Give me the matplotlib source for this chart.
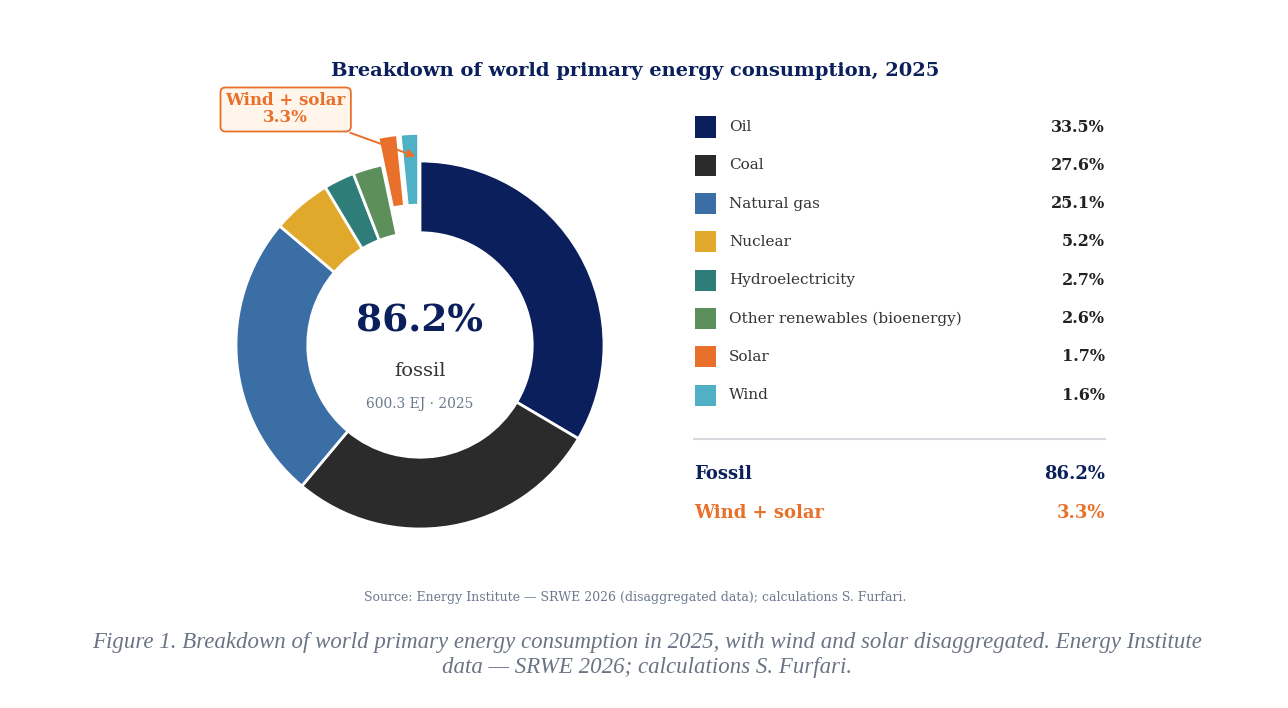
import matplotlib.pyplot as plt
from matplotlib.patches import Rectangle
from matplotlib.lines import Line2D

# Energy Institute SRWE 2026, share of world primary energy (%)
categories = ["Oil", "Coal", "Natural gas", "Nuclear", "Hydroelectricity",
              "Other renewables (bioenergy)", "Solar", "Wind"]
shares = [33.5, 27.6, 25.1, 5.2, 2.7, 2.6, 1.7, 1.6]
colors = ["#0a1f5c", "#2b2b2b", "#3a6ea5", "#e0a92b", "#2e7d78",
          "#5c8f5a", "#e8702a", "#4fb0c6"]
exploded = ["Solar", "Wind"]

fossil_share = 86.2
wind_solar_share = 3.3
total_label = "600.3 EJ · 2025"

NAVY = "#0a1f5c"
ORANGE = "#e8702a"
W, H = 1288, 708
plt.rcParams['font.family'] = ['DejaVu Serif']


def px(x, y):
    return x / W, 1 - y / H


fig = plt.figure(figsize=(W / 100, H / 100), dpi=100)
fig.patch.set_facecolor("white")

# donut axes: centre at (420, 345) px, radius 1 -> 184 px
cx, cy, half = 420, 345, 240
ax = fig.add_axes([(cx - half) / W, (H - cy - half) / H, 2 * half / W, 2 * half / H])

explode = [0.15 if c in exploded else 0 for c in categories]
ax.pie(shares, colors=colors, startangle=90, counterclock=False, explode=explode,
       radius=1.0, wedgeprops=dict(width=0.39, edgecolor="white", linewidth=2))
lim = half / 184
ax.set_xlim(-lim, lim)
ax.set_ylim(-lim, lim)
ax.set_aspect("equal")
ax.axis("off")

ax.text(0, 0.13, f"{fossil_share:.1f}%", ha="center", va="center",
        fontsize=27, fontweight="bold", color=NAVY)
ax.text(0, -0.14, "fossil", ha="center", va="center", fontsize=14, color="#333333")
ax.text(0, -0.32, total_label, ha="center", va="center", fontsize=10, color="#6b7a8f")

ax.annotate(f"Wind + solar\n{wind_solar_share:.1f}%", xy=(-0.01, 1.02), xytext=(-0.73, 1.28),
            ha="center", va="center", fontsize=12, fontweight="bold", color=ORANGE,
            linespacing=1.0, annotation_clip=False,
            bbox=dict(boxstyle="round,pad=0.3", fc="#fff5eb", ec=ORANGE, lw=1.3),
            arrowprops=dict(arrowstyle="-|>", color=ORANGE, lw=1.4, mutation_scale=12))

fig.text(*px(635, 71), "Breakdown of world primary energy consumption, 2025",
         ha="center", va="center", fontsize=14, fontweight="bold", color=NAVY)

# legend as a table
row_y0, row_dy = 127, 38.3
for i, (cat, val, col) in enumerate(zip(categories, shares, colors)):
    y = row_y0 + i * row_dy
    x0, y0 = px(695, y + 10.5)
    fig.add_artist(Rectangle((x0, y0), 21 / W, 21 / H, transform=fig.transFigure,
                             facecolor=col, edgecolor="none"))
    fig.text(*px(729, y), cat, ha="left", va="center", fontsize=11, color="#333333")
    fig.text(*px(1105, y), f"{val:.1f}%", ha="right", va="center", fontsize=11.5,
             fontweight="bold", color="#222222")

fig.add_artist(Line2D([694 / W, 1105 / W], [1 - 439 / H] * 2, transform=fig.transFigure,
                      color="#d5d8dc", lw=1.5))
fig.text(*px(694, 474), "Fossil", ha="left", va="center", fontsize=13,
         fontweight="bold", color=NAVY)
fig.text(*px(1105, 474), f"{fossil_share:.1f}%", ha="right", va="center", fontsize=13,
         fontweight="bold", color=NAVY)
fig.text(*px(694, 513), "Wind + solar", ha="left", va="center", fontsize=13,
         fontweight="bold", color=ORANGE)
fig.text(*px(1105, 513), f"{wind_solar_share:.1f}%", ha="right", va="center", fontsize=13,
         fontweight="bold", color=ORANGE)

fig.text(*px(635, 598), "Source: Energy Institute — SRWE 2026 (disaggregated data); calculations S. Furfari.",
         ha="center", va="center", fontsize=9, color="#6b7a8f")
fig.text(*px(647, 655), "Figure 1. Breakdown of world primary energy consumption in 2025, with wind and solar disaggregated. Energy Institute\ndata — SRWE 2026; calculations S. Furfari.",
         ha="center", va="center", fontsize=16.5, style="italic", color="#6b7385",
         family=["Liberation Serif", "DejaVu Serif"], linespacing=1.3)

fig.savefig("out.png", dpi=100)
